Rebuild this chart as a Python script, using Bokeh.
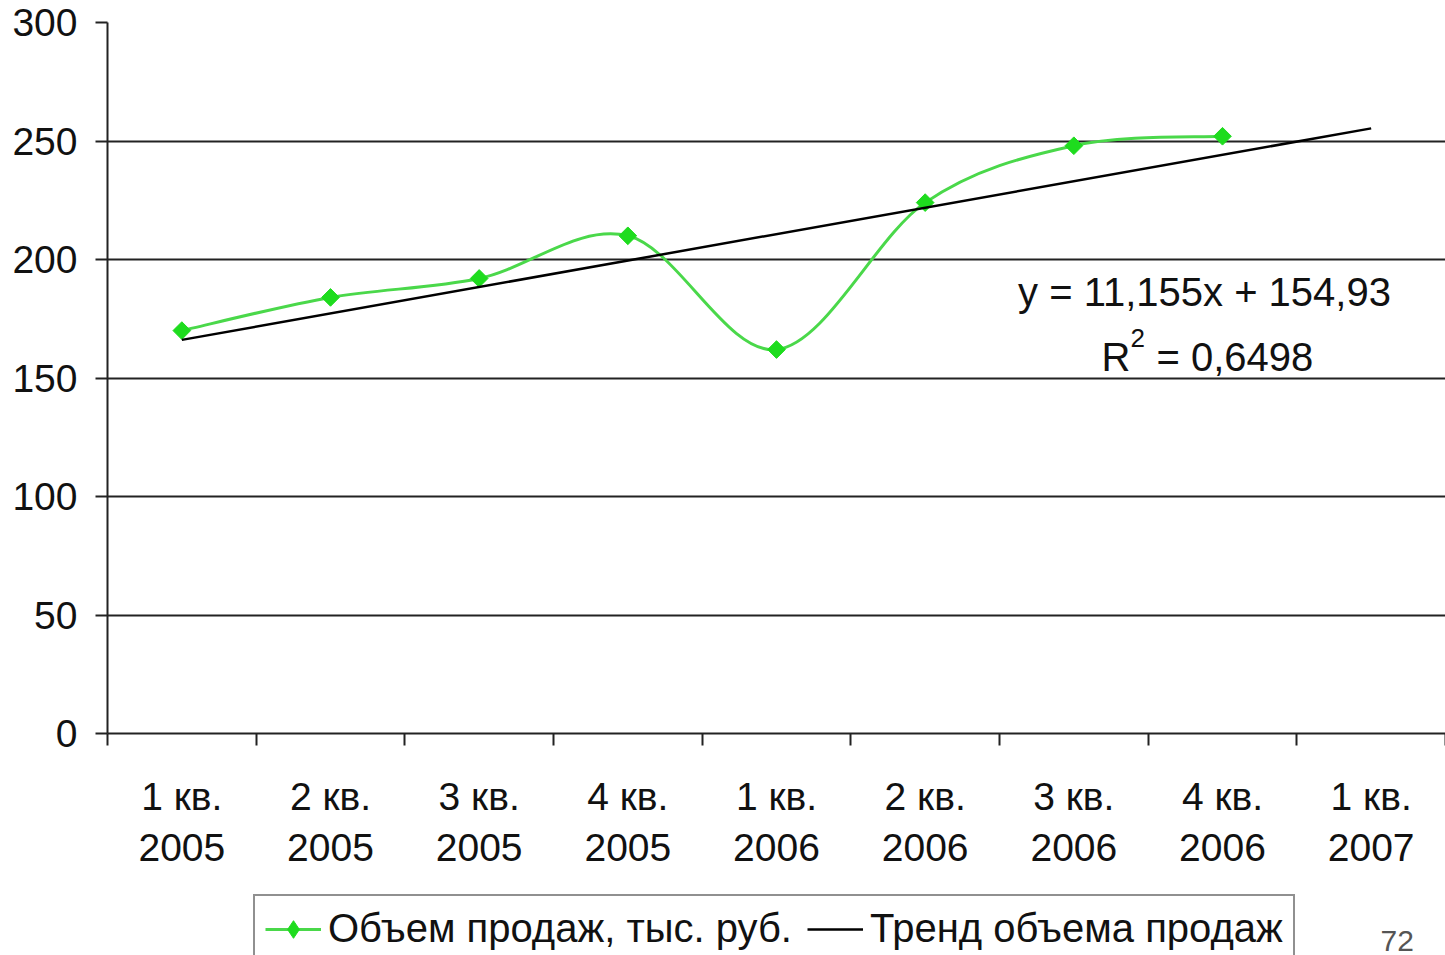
import numpy as np
from bokeh.plotting import figure
from bokeh.layouts import column
from bokeh.models import FixedTicker, Range1d, Legend, LegendItem, Label
from bokeh.embed import file_html
from bokeh.resources import INLINE

# ---- data ----
quarters = ["1 кв.\n2005", "2 кв.\n2005", "3 кв.\n2005", "4 кв.\n2005",
            "1 кв.\n2006", "2 кв.\n2006", "3 кв.\n2006", "4 кв.\n2006",
            "1 кв.\n2007"]
sales = [170, 184, 192, 210, 162, 224, 248, 252]
trend_x = [1, 9]
trend_y = [166.09, 255.33]
y_ticks = [0, 50, 100, 150, 200, 250, 300]
sales_label = "Объем продаж, тыс. руб."
trend_label = "Тренд объема продаж"
equation_text = "y = 11,155x + 154,93"
page_number = "72"

FONT = "Liberation Sans"
GREEN_LINE = "#4ad84a"
GREEN_MARK = "#1edc1e"
DARK = "#222222"

n_cat = len(quarters)
pos = list(range(1, n_cat + 1))
xs = np.array(pos[:len(sales)], dtype=float)
ys = np.array(sales, dtype=float)

W = 1445
H_MAIN = 890
H_LEG = 65
LEFT = 107

p = figure(width=W, height=H_MAIN, output_backend="svg", toolbar_location=None,
           x_range=Range1d(0.5, n_cat + 0.5), y_range=Range1d(0, 300),
           min_border_left=LEFT, min_border_right=0, min_border_top=22,
           min_border_bottom=H_MAIN - 733)
p.outline_line_color = None
p.background_fill_color = "white"
p.border_fill_color = "white"

# smoothed sales line (Catmull-Rom style Bezier segments built from the data)
pts = np.column_stack([xs, ys])
prev = np.vstack([pts[:1], pts[:-1]])
nxt = np.vstack([pts[1:], pts[-1:]])
tang = (nxt - prev) / 6.0
p0 = pts[:-1]
p1 = pts[1:]
c0 = p0 + tang[:-1]
c1 = p1 - tang[1:]
p.bezier(x0=p0[:, 0], y0=p0[:, 1], x1=p1[:, 0], y1=p1[:, 1],
         cx0=c0[:, 0], cy0=c0[:, 1], cx1=c1[:, 0], cy1=c1[:, 1],
         line_color=GREEN_LINE, line_width=3)
p.scatter(x=xs, y=ys, marker="square", size=12.5, angle=np.pi / 4,
          fill_color=GREEN_MARK, line_color=GREEN_MARK)
p.line(x=trend_x, y=trend_y, line_color="black", line_width=2.5)

# axes
xaxis = p.xaxis[0]
xaxis.ticker = FixedTicker(ticks=pos, minor_ticks=[v - 0.5 for v in pos] + [n_cat + 0.5])
xaxis.major_label_overrides = {i: q for i, q in zip(pos, quarters)}
xaxis.major_tick_in = 0
xaxis.major_tick_out = 0
xaxis.minor_tick_in = 0
xaxis.minor_tick_out = 12
xaxis.minor_tick_line_color = DARK
xaxis.minor_tick_line_width = 2
xaxis.axis_line_color = DARK
xaxis.axis_line_width = 2
xaxis.major_label_text_font = FONT
xaxis.major_label_text_font_size = "39px"
xaxis.major_label_text_color = "#111111"
xaxis.major_label_text_line_height = 1.2
xaxis.major_label_standoff = 29

yaxis = p.yaxis[0]
yaxis.ticker = FixedTicker(ticks=y_ticks)
yaxis.major_tick_in = 0
yaxis.major_tick_out = 12
yaxis.minor_tick_line_color = None
yaxis.major_tick_line_color = DARK
yaxis.major_tick_line_width = 2
yaxis.axis_line_color = DARK
yaxis.axis_line_width = 2
yaxis.major_label_text_font = FONT
yaxis.major_label_text_font_size = "39px"
yaxis.major_label_text_color = "#111111"
yaxis.major_label_standoff = 18

p.xgrid.grid_line_color = None
p.ygrid.ticker = FixedTicker(ticks=y_ticks)
p.ygrid.grid_line_color = DARK
p.ygrid.grid_line_width = 2

# trend equation annotation (placed in data space of the main plot)
def xd(px):
    return 0.5 + (px - LEFT) / ((W - LEFT) / n_cat)

def yd(py):
    return (733 - py) / ((733 - 22) / 300)

def add_text(fig, x, y, text, size, align="left", color="#111111", baseline="alphabetic"):
    fig.add_layout(Label(x=x, y=y, text=text, text_align=align,
                         text_baseline=baseline, text_font=FONT,
                         text_font_size=size, text_color=color))

add_text(p, xd(1204), yd(291), equation_text, "40px", align="center")
add_text(p, xd(1101), yd(356), "R", "40px")
add_text(p, xd(1130), yd(337), "2", "26px")
add_text(p, xd(1156), yd(356), "= 0,6498", "40px")

# ---- legend strip below the chart (x in screen pixels of the page) ----
p2 = figure(width=W, height=H_LEG, output_backend="svg", toolbar_location=None,
            x_range=Range1d(LEFT, W), y_range=Range1d(0, H_LEG),
            x_axis_type=None, y_axis_type=None,
            min_border_left=LEFT, min_border_right=0, min_border_top=0,
            min_border_bottom=0)
p2.outline_line_color = None
p2.grid.grid_line_color = None
p2.background_fill_color = "white"
p2.border_fill_color = "white"

# legend sample glyphs (kept outside the visible range)
leg_line = p2.line(x=[-1000, -999], y=[-1000, -1000], line_color=GREEN_LINE, line_width=3)
leg_mark = p2.scatter(x=[-1000], y=[-1000], marker="diamond", size=19,
                      fill_color=GREEN_MARK, line_color=GREEN_MARK)
leg_trend = p2.line(x=[-1000, -999], y=[-1000, -1000], line_color="black", line_width=2.5)

legend = Legend(items=[LegendItem(label=sales_label, renderers=[leg_line, leg_mark]),
                       LegendItem(label=trend_label, renderers=[leg_trend])],
                orientation="horizontal", location=(253 - LEFT, -8),
                label_text_font=FONT, label_text_font_size="40px",
                label_text_color="#111111",
                glyph_width=56, glyph_height=44, label_standoff=7, spacing=15,
                padding=10, margin=0,
                border_line_color=DARK, border_line_width=2,
                background_fill_color="white", background_fill_alpha=1)
p2.add_layout(legend, "center")

add_text(p2, 1380, H_LEG - 40, page_number, "30px", color="#555555", baseline="top")

layout = column(p, p2, spacing=0)
open("out.html", "w").write(file_html(layout, INLINE))
